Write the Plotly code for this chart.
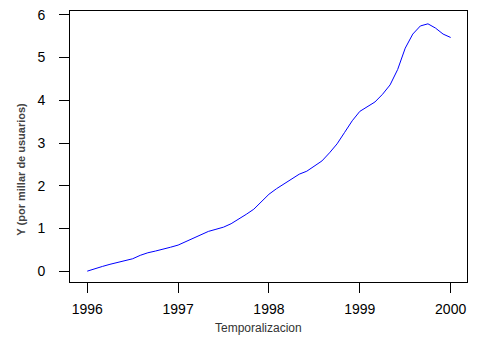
import plotly.graph_objects as go

# Monthly series, January 1996 to January 2000
start_year = 1996
months = 49
values = [
    0.00, 0.06, 0.11, 0.16, 0.20, 0.25, 0.29, 0.37, 0.43, 0.47, 0.51, 0.56,
    0.61, 0.69, 0.78, 0.85, 0.93, 0.98, 1.03, 1.11, 1.21, 1.33, 1.45, 1.62,
    1.80, 1.93, 2.05, 2.17, 2.27, 2.34, 2.45, 2.58, 2.77, 2.98, 3.25, 3.52,
    3.74, 3.86, 3.96, 4.14, 4.36, 4.72, 5.22, 5.55, 5.74, 5.79, 5.69, 5.55,
    5.47,
]
x_ticks = [1996, 1997, 1998, 1999, 2000]
y_ticks = [0, 1, 2, 3, 4, 5, 6]
x_title = "Temporalizacion"
y_title = "Y (por millar de usuarios)"

t = [start_year + k / 12 for k in range(months)]

FONT = "Liberation Sans, Arial, sans-serif"

fig = go.Figure()
fig.add_trace(go.Scatter(
    x=t, y=values, mode="lines",
    line=dict(color="#0000FF", width=1),
    showlegend=False, hoverinfo="skip",
))

axis_common = dict(
    showline=True, linecolor="black", linewidth=1, mirror=True,
    ticks="outside", ticklen=10, tickwidth=1, tickcolor="black",
    showgrid=False, zeroline=False,
    tickfont=dict(family=FONT, size=14, color="black"),
)

fig.update_layout(
    width=477, height=346,
    margin=dict(l=70, r=10, t=7, b=64),
    paper_bgcolor="white", plot_bgcolor="white",
    xaxis=dict(
        range=[1995.81, 2000.18], tickvals=x_ticks,
        ticktext=[str(v) for v in x_ticks],
        ticklabelstandoff=4,
        **axis_common,
    ),
    yaxis=dict(
        range=[-0.254, 6.09], tickvals=y_ticks,
        ticklabelstandoff=11,
        **axis_common,
    ),
    annotations=[
        dict(text=x_title, xref="paper", yref="paper",
             x=(258.5 - 70) / 397, y=-(329 - 282) / 275,
             xanchor="center", yanchor="middle", showarrow=False,
             font=dict(family=FONT, size=12, color="#333333")),
        dict(text="<b>" + y_title + "</b>", xref="paper", yref="paper",
             x=-(70 - 21) / 397, y=(282 - 168) / 275, textangle=-90,
             xanchor="center", yanchor="middle", showarrow=False,
             font=dict(family=FONT, size=11, color="#444444")),
    ],
)

fig.write_html("out.html")
